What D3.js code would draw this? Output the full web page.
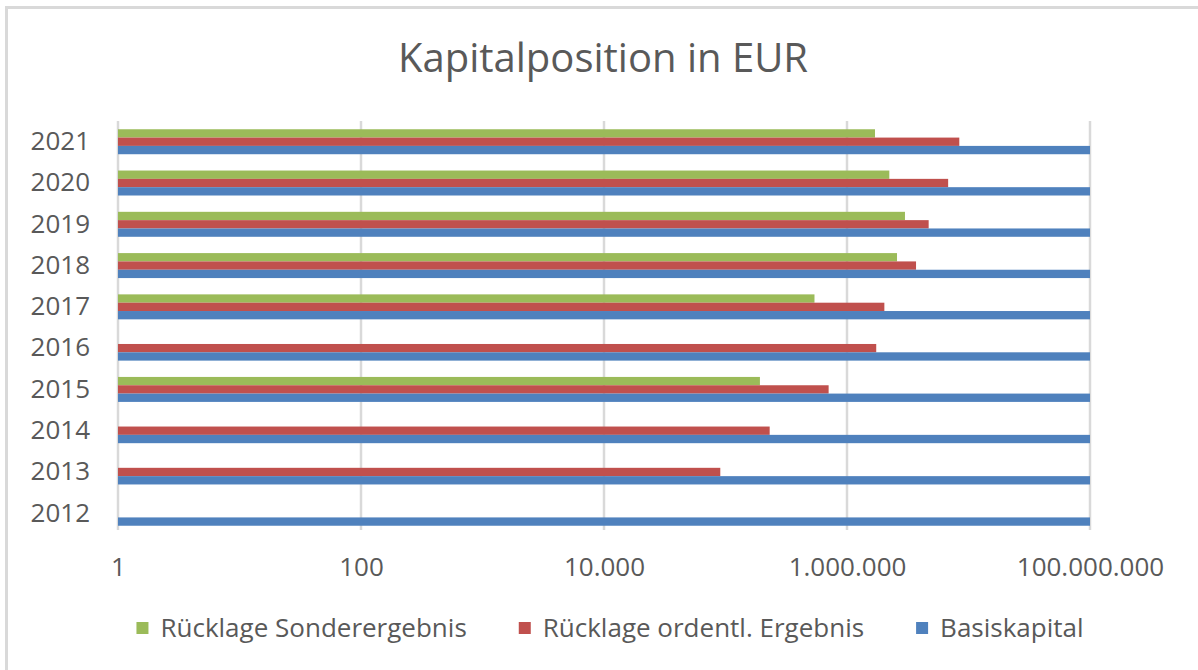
<!DOCTYPE html>
<html>
<head>
<meta charset="utf-8">
<script src="https://d3js.org/d3.v7.min.js"></script>
<style>
  body { margin: 0; background: #fff; }
  text { font-family: "Open Sans", sans-serif; fill: #595959; }
</style>
</head>
<body>
<div id="chart"></div>
<script>
// data (EUR, log axis)
var years = ["2021", "2020", "2019", "2018", "2017", "2016", "2015", "2014", "2013", "2012"];
var seriesNames = ["Rücklage Sonderergebnis", "Rücklage ordentl. Ergebnis", "Basiskapital"];
var sonderergebnis = [1700000, 2230000, 3000000, 2580000, 540000, null, 192000, null, null, null];
var ordentlErgebnis = [8400000, 6800000, 4700000, 3700000, 2030000, 1740000, 706000, 231000, 90600, null];
var basiskapital = [100000000, 100000000, 100000000, 100000000, 100000000, 100000000, 100000000, 100000000, 100000000, 100000000];
var tickValues = [1, 100, 10000, 1000000, 100000000];
var colors = ["#9BBB59", "#C0504D", "#4F81BD"];

var width = 1198, height = 670;

var svg = d3.select("#chart")
  .append("svg")
  .attr("width", width)
  .attr("height", height);

// frame (only top and left edge visible in the picture)
svg.append("path")
  .attr("d", "M6.5," + height + "V7.5H" + width)
  .attr("fill", "none")
  .attr("stroke", "#d9d9d9")
  .attr("stroke-width", 3);

svg.append("text")
  .attr("x", 603)
  .attr("y", 72)
  .attr("text-anchor", "middle")
  .style("font-size", "40px")
  .text("Kapitalposition in EUR");

var x = d3.scaleLog()
  .domain([1, 100000000])
  .range([118, 1090]);

var y = d3.scaleBand()
  .domain(years)
  .range([121, 534])
  .paddingInner(0.395)
  .paddingOuter(0.2);

var ySub = d3.scaleBand()
  .domain(seriesNames)
  .range([0, y.bandwidth()]);

var de = d3.formatLocale({ decimal: ",", thousands: ".", grouping: [3], currency: ["", " €"] });
var fmt = de.format(",d");

// gridlines
svg.append("g")
  .selectAll("line")
  .data(tickValues)
  .enter()
  .append("line")
  .attr("x1", function (d) { return x(d); })
  .attr("x2", function (d) { return x(d); })
  .attr("y1", 121)
  .attr("y2", 530)
  .attr("stroke", "#d9d9d9")
  .attr("stroke-width", 2.5);

// bars
var series = [sonderergebnis, ordentlErgebnis, basiskapital];
series.forEach(function (values, i) {
  svg.append("g")
    .selectAll("rect")
    .data(years.map(function (yr, j) { return { year: yr, value: values[j] }; })
      .filter(function (d) { return d.value; }))
    .enter()
    .append("rect")
    .attr("x", x(1))
    .attr("y", function (d) { return y(d.year) + ySub(seriesNames[i]); })
    .attr("width", function (d) { return x(d.value) - x(1); })
    .attr("height", ySub.bandwidth())
    .attr("fill", colors[i]);
});

// axes
var xAxis = svg.append("g")
  .attr("transform", "translate(0,530)")
  .call(d3.axisBottom(x).tickValues(tickValues).tickFormat(fmt).tickSize(0).tickPadding(28));
xAxis.select(".domain").remove();
xAxis.selectAll("text")
  .style("font-size", "26px")
  .style("font-family", "'Open Sans', sans-serif")
  .attr("fill", "#595959");

var yAxis = svg.append("g")
  .attr("transform", "translate(118,0)")
  .call(d3.axisLeft(y).tickSize(0).tickPadding(28));
yAxis.select(".domain").remove();
yAxis.selectAll("text")
  .style("font-size", "26px")
  .style("font-family", "'Open Sans', sans-serif")
  .attr("fill", "#595959");

// legend
var legend = svg.append("g");
var items = legend.selectAll("g")
  .data(seriesNames)
  .enter()
  .append("g");
items.append("rect")
  .attr("width", 12)
  .attr("height", 12)
  .attr("y", -6)
  .attr("fill", function (d, i) { return colors[i]; });
items.append("text")
  .attr("x", 24)
  .attr("dy", "0.35em")
  .style("font-size", "26px")
  .text(function (d) { return d; });

var gap = 52;
var offset = 0;
items.each(function () {
  var w = this.getBBox().width;
  this._x = offset;
  offset += w + gap;
});
var total = offset - gap;
var start = 610 - total / 2;
items.attr("transform", function () { return "translate(" + (start + this._x) + ",628)"; });
</script>
</body>
</html>
